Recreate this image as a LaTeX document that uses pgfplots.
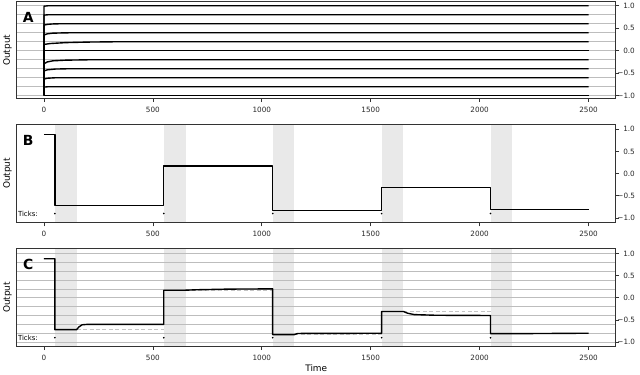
\documentclass[border=0pt]{standalone}
\usepackage{fontspec}
\setmainfont{DejaVu Sans}
\usepackage{pgfplots}
\pgfplotsset{compat=1.18}

\definecolor{band}{HTML}{E9E9E9}
\definecolor{gridc}{HTML}{BDBDBD}
\definecolor{spine}{HTML}{333333}
\definecolor{target}{HTML}{C4C4C4}

\tikzset{
  letter/.style={font=\bfseries\fontsize{14}{14}\selectfont},
  tickname/.style={anchor=west, inner sep=0pt, font=\fontsize{7}{8}\selectfont},
}

\pgfplotsset{
  panel/.style={
    scale only axis, width=602.9pt, anchor=south west,
    xmin=-125, xmax=2625,
    xtick={0,500,1000,1500,2000,2500},
    xticklabels={0,500,1000,1500,2000,2500},
    ytick={-1,-0.5,0,0.5,1},
    yticklabels={−1.0,−0.5,0.0,0.5,1.0},
    xtick pos=lower, ytick pos=upper, yticklabel pos=upper,
    tick align=outside, major tick length=3.5pt,
    tick style={spine, line width=0.7pt},
    axis line style={spine, line width=0.8pt},
    ticklabel style={font=\fontsize{7.3}{8}\selectfont, text=black!85},
    xticklabel style={yshift=-1.5pt},
    yticklabel style={text width=17.5pt, align=right, inner sep=1pt, xshift=-3pt},
    /pgf/number format/assume math mode=true,
    set layers,
    ylabel={Output},
    ylabel style={at={(axis description cs:-0.0153,0.5)}, anchor=center,
      font=\fontsize{9}{10}\selectfont},
  },
  levels/.style={
    minor ytick={-1,-0.8,-0.6,-0.4,-0.2,0,0.2,0.4,0.6,0.8,1},
    minor tick length=0pt, yminorgrids,
    minor grid style={gridc, line width=0.7pt},
  },
  trace/.style={black, line width=1.4pt, line join=round},
  tickdots/.style={only marks, mark=*, mark size=0.6pt, black},
  bandfill/.style={on layer=axis background, fill=band, draw=none},
}

\begin{document}
\begin{tikzpicture}
\path (0,0) rectangle (640pt,374pt);

% ---- A ----
\begin{axis}[panel, levels, at={(12.7pt,274.7pt)}, height=97.6pt,
  ymin=-1.066, ymax=1.09]
  \addplot[trace] coordinates {(0,0)(0,0.99)(20,1)(2500,1)};
  \addplot[trace] coordinates {(0,0)(0,0.79)(20,0.8)(2500,0.8)};
  \addplot[trace] coordinates {(0,0)(0,0.57)(15,0.585)(40,0.595)(80,0.6)(2500,0.6)};
  \addplot[trace] coordinates {(0,0)(0,0.35)(15,0.375)(40,0.39)(100,0.398)(200,0.4)(2500,0.4)};
  \addplot[trace] coordinates {(0,0)(0,0.14)(30,0.16)(100,0.18)(200,0.192)(350,0.2)(2500,0.2)};
  \addplot[trace] coordinates {(0,0)(2500,0)};
  \addplot[trace] coordinates {(0,0)(0,-0.29)(15,-0.25)(40,-0.225)(100,-0.21)(200,-0.202)(2500,-0.2)};
  \addplot[trace] coordinates {(0,0)(0,-0.45)(15,-0.425)(50,-0.408)(120,-0.4)(2500,-0.4)};
  \addplot[trace] coordinates {(0,0)(0,-0.63)(15,-0.612)(50,-0.602)(2500,-0.6)};
  \addplot[trace] coordinates {(0,0)(0,-0.81)(20,-0.8)(2500,-0.8)};
  \addplot[trace] coordinates {(0,0)(0,-1)(2500,-1)};
  \node[letter] at (axis cs:-72,0.74) {A};
\end{axis}

% ---- B ----
\begin{axis}[panel, at={(12.7pt,149.7pt)}, height=99.6pt,
  ymin=-1.11, ymax=1.12]
  \addplot[bandfill] coordinates {(50,-1.11)(50,1.12)(150,1.12)(150,-1.11)};
  \addplot[bandfill] coordinates {(550,-1.11)(550,1.12)(650,1.12)(650,-1.11)};
  \addplot[bandfill] coordinates {(1050,-1.11)(1050,1.12)(1150,1.12)(1150,-1.11)};
  \addplot[bandfill] coordinates {(1550,-1.11)(1550,1.12)(1650,1.12)(1650,-1.11)};
  \addplot[bandfill] coordinates {(2050,-1.11)(2050,1.12)(2150,1.12)(2150,-1.11)};
  \addplot[trace] coordinates {(0,0.88)(50,0.88)(50,-0.72)(550,-0.72)(550,0.17)
    (1050,0.17)(1050,-0.83)(1550,-0.83)(1550,-0.32)(2050,-0.32)(2050,-0.81)(2500,-0.81)};
  \addplot[tickdots] coordinates {(50,-0.9)(550,-0.9)(1050,-0.9)(1550,-0.9)(2050,-0.9)};
  \node[tickname] at (axis cs:-120,-0.9) {Ticks:};
  \node[letter] at (axis cs:-72,0.74) {B};
\end{axis}

% ---- C ----
\begin{axis}[panel, levels, at={(12.7pt,25pt)}, height=99.3pt,
  ymin=-1.105, ymax=1.119,
  xlabel={Time},
  xlabel style={at={(axis description cs:0.5,0)}, anchor=center, yshift=-21.5pt,
    font=\fontsize{9}{10}\selectfont}]
  \addplot[bandfill] coordinates {(50,-1.105)(50,1.119)(150,1.119)(150,-1.105)};
  \addplot[bandfill] coordinates {(550,-1.105)(550,1.119)(650,1.119)(650,-1.105)};
  \addplot[bandfill] coordinates {(1050,-1.105)(1050,1.119)(1150,1.119)(1150,-1.105)};
  \addplot[bandfill] coordinates {(1550,-1.105)(1550,1.119)(1650,1.119)(1650,-1.105)};
  \addplot[bandfill] coordinates {(2050,-1.105)(2050,1.119)(2150,1.119)(2150,-1.105)};
  \addplot[target, line width=1pt, dash pattern=on 4pt off 2.5pt] coordinates {(150,-0.72)(550,-0.72)};
  \addplot[target, line width=1pt, dash pattern=on 4pt off 2.5pt] coordinates {(650,0.17)(1050,0.17)};
  \addplot[target, line width=1pt, dash pattern=on 4pt off 2.5pt] coordinates {(1150,-0.83)(1550,-0.83)};
  \addplot[target, line width=1pt, dash pattern=on 4pt off 2.5pt] coordinates {(1650,-0.32)(2050,-0.32)};
  \addplot[target, line width=1pt, dash pattern=on 4pt off 2.5pt] coordinates {(2150,-0.81)(2500,-0.81)};
  \addplot[trace] coordinates {(0,0.88)(50,0.88)(50,-0.72)(150,-0.72)(160,-0.66)(175,-0.61)(200,-0.6)
    (550,-0.6)(550,0.17)(650,0.17)(700,0.18)(850,0.195)(1050,0.2)(1050,-0.83)(1150,-0.83)(1165,-0.805)
    (1550,-0.8)(1550,-0.31)(1650,-0.31)(1670,-0.35)(1700,-0.38)(1800,-0.395)(2050,-0.4)
    (2050,-0.81)(2150,-0.81)(2500,-0.8)};
  \addplot[tickdots] coordinates {(50,-0.9)(550,-0.9)(1050,-0.9)(1550,-0.9)(2050,-0.9)};
  \node[tickname] at (axis cs:-120,-0.9) {Ticks:};
  \node[letter] at (axis cs:-72,0.75) {C};
\end{axis}
\end{tikzpicture}
\end{document}
